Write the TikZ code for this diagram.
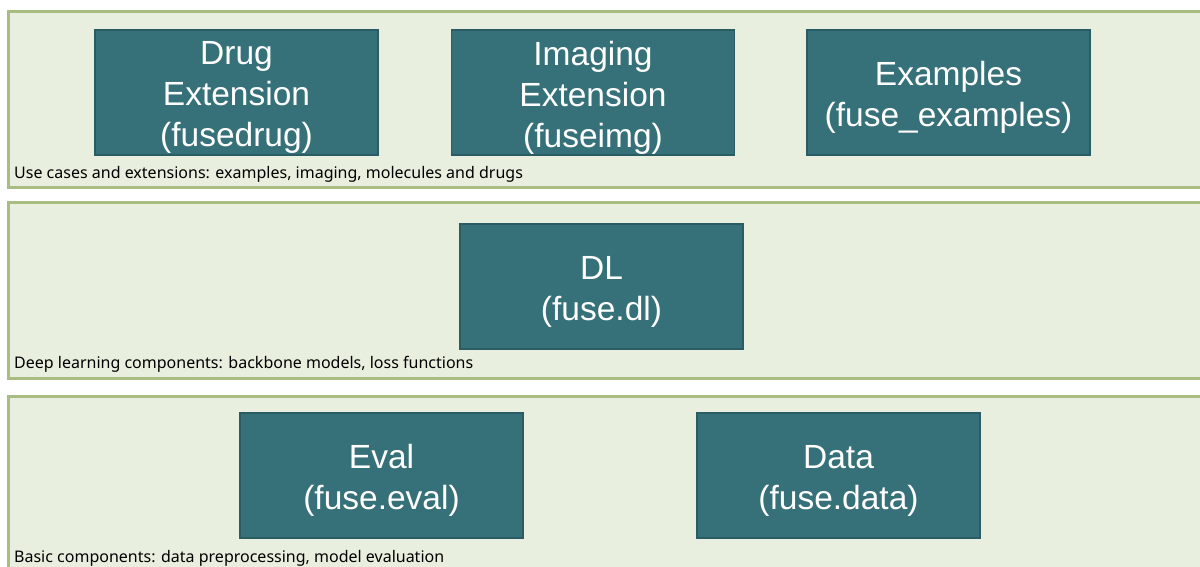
\documentclass[tikz,border=0pt]{standalone}
\usepackage{fontspec}
\setmainfont{Liberation Sans}
\newfontfamily\labfont{Noto Sans}
\definecolor{bandfill}{HTML}{E9EFDF}
\definecolor{bandline}{HTML}{A9BD82}
\definecolor{boxfill}{HTML}{367179}
\definecolor{boxline}{HTML}{2A5C63}
\begin{document}
\begin{tikzpicture}[x=1pt,y=-1pt,
  band/.style={draw=bandline,fill=bandfill,line width=3pt},
  modbox/.style={draw=boxline,fill=boxfill,line width=1.5pt,minimum width=283pt,minimum height=125pt,inner sep=0pt},
  modtext/.style={text=white,align=center,inner sep=0pt,yshift=-5pt,font=\fontsize{33.5}{41}\selectfont},
  bandlabel/.style={anchor=base west,inner sep=0pt,font=\labfont\fontsize{16}{19}\selectfont,text=black}]
\useasboundingbox (0,0) rectangle (1200,566);
\clip (0,0) rectangle (1200,566);
\fill[white] (0,0) rectangle (1200,566);
\draw[band] (8,11) rectangle (1215,187);
\draw[band] (8,202) rectangle (1215,378);
\draw[band] (8,396) rectangle (1215,590);
\node[modbox] (drug) at (236.5,92.5) {};
\node[modbox] (img) at (593,92.5) {};
\node[modbox] (ex) at (948.5,92.5) {};
\node[modbox] (dl) at (601.5,286.5) {};
\node[modbox] (eval) at (381.5,475.5) {};
\node[modbox] (data) at (838.5,475.5) {};
\node[modtext] (drugt) at (drug.center) {Drug\\Extension\\(fusedrug)};
\node[modtext] (imgt) at (img.center) {Imaging\\Extension\\(fuseimg)};
\node[modtext] (ext) at (ex.center) {Examples\\(fuse\_examples)};
\node[modtext] (dlt) at (dl.center) {DL\\(fuse.dl)};
\node[modtext] (evalt) at (eval.center) {Eval\\(fuse.eval)};
\node[modtext] (datat) at (data.center) {Data\\(fuse.data)};
\node[bandlabel] (l1) at (14,178) {Use cases and extensions: examples, imaging, molecules and drugs};
\node[bandlabel] (l2) at (14,368) {Deep learning components: backbone models, loss functions};
\node[bandlabel] (l3) at (14,562) {Basic components: data preprocessing, model evaluation};
\end{tikzpicture}
\end{document}
